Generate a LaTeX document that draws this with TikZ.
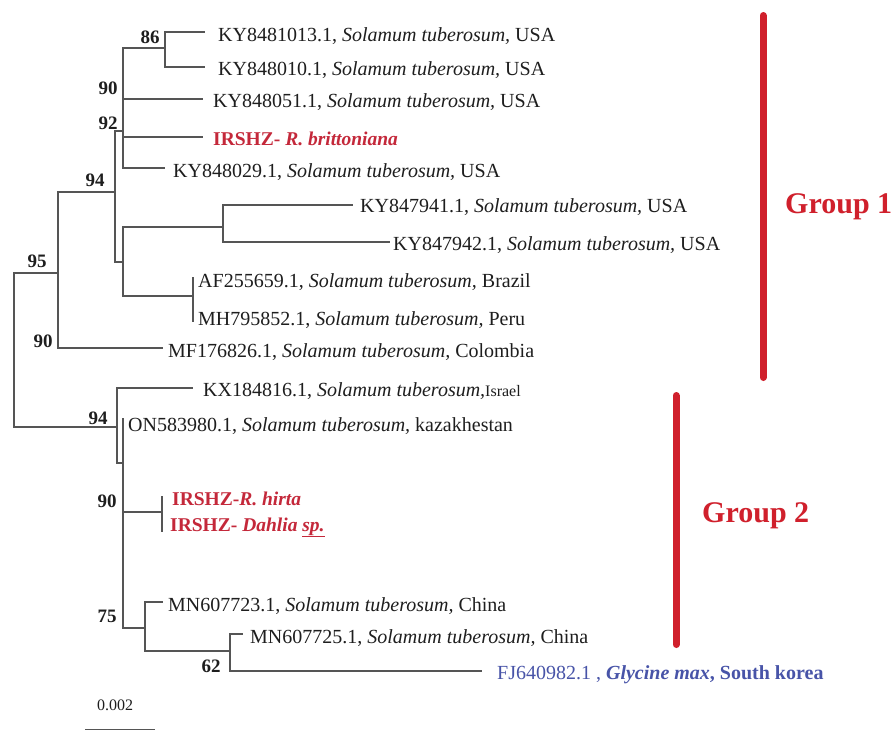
\documentclass[tikz,border=0pt]{standalone}
\usepackage{fontspec}
\setmainfont{Liberation Serif}
\definecolor{grpred}{RGB}{208,32,44}
\definecolor{txtred}{RGB}{196,40,58}
\definecolor{txtblue}{RGB}{72,84,168}
\definecolor{brgray}{RGB}{85,85,85}
\definecolor{txtdark}{RGB}{30,30,30}
\tikzset{
  brline/.style={draw=brgray, line width=1.3pt},
  leaf/.style={anchor=base west, inner sep=0pt, text=txtdark, font=\fontsize{20}{24}\selectfont},
  redlab/.style={anchor=base west, inner sep=0pt, text=txtred, font=\bfseries\fontsize{19.5}{23}\selectfont},
  bluelab/.style={anchor=base west, inner sep=0pt, text=txtblue, font=\fontsize{20}{24}\selectfont},
  boot/.style={inner sep=0pt, text=txtdark, font=\bfseries\fontsize{19}{22}\selectfont},
  grp/.style={anchor=base west, inner sep=0pt, text=grpred, font=\bfseries\fontsize{30}{34}\selectfont},
  grpbar/.style={draw=grpred, line width=7pt, line cap=round},
}
\newcommand{\sol}{\textit{Solamum tuberosum,}}
\begin{document}
\begin{tikzpicture}[x=1pt,y=-1pt]
\useasboundingbox[fill=white] (0,0) rectangle (896,731);
% internal nodes
\coordinate (root) at (14,350);
\coordinate (n95) at (58,273);
\coordinate (n94) at (115,192);
\coordinate (nA) at (123,131);
\coordinate (n86) at (165,48);
\coordinate (nC) at (123,262);
\coordinate (nD) at (223,227);
\coordinate (nE) at (193,296);
\coordinate (n117) at (117,427);
\coordinate (nB) at (123,463);
\coordinate (nF) at (162,512);
\coordinate (nG) at (145,628);
\coordinate (nH) at (230,651);
% tips
\coordinate (t1) at (205,32);
\coordinate (t2) at (205,67);
\coordinate (t3) at (203,99);
\coordinate (t4) at (203,137);
\coordinate (t5) at (165,168);
\coordinate (t6) at (353,205);
\coordinate (t7) at (390,242);
\coordinate (t8) at (193,277);
\coordinate (t9) at (193,322);
\coordinate (t10) at (163,348);
\coordinate (t11) at (193,388);
\coordinate (t12) at (123,418);
\coordinate (t13) at (162,496);
\coordinate (t14) at (162,532);
\coordinate (t15) at (163,602);
\coordinate (t16) at (243,634);
\coordinate (t17) at (482,671);
% branches
\path[brline] (root) |- (n95) (root) |- (n117)
  (n95) |- (n94) (n95) |- (t10)
  (n94) |- (nA) (n94) |- (nC)
  (nA) |- (n86) (nA) |- (t3) (nA) |- (t4) (nA) |- (t5)
  (n86) |- (t1) (n86) |- (t2)
  (nC) |- (nD) (nC) |- (nE)
  (nD) |- (t6) (nD) |- (t7)
  (nE) |- (t8) (nE) |- (t9)
  (n117) |- (t11) (n117) |- (nB)
  (nB) |- (t12) (nB) |- (nF) (nB) |- (nG)
  (nF) |- (t13) (nF) |- (t14)
  (nG) |- (t15) (nG) |- (nH)
  (nH) |- (t16) (nH) |- (t17);
% leaf labels
\node[leaf] (L1) at (218,41) {KY8481013.1, \sol{} USA};
\node[leaf] (L2) at (218,75) {KY848010.1, \sol{} USA};
\node[leaf] (L3) at (213,107) {KY848051.1, \sol{} USA};
\node[redlab] (L4) at (213,145) {IRSHZ- \textit{R. brittoniana}};
\node[leaf] (L5) at (173,177) {KY848029.1, \sol{} USA};
\node[leaf] (L6) at (360,212) {KY847941.1, \sol{} USA};
\node[leaf] (L7) at (393,250) {KY847942.1, \sol{} USA};
\node[leaf] (L8) at (198,287) {AF255659.1, \sol{} Brazil};
\node[leaf] (L9) at (198,325) {MH795852.1, \sol{} Peru};
\node[leaf] (L10) at (168,357) {MF176826.1, \sol{} Colombia};
\node[leaf] (L11) at (203,396) {KX184816.1, \sol{}{\fontsize{16}{18}\selectfont Israel}};
\node[leaf] (L12) at (128,431) {ON583980.1, \sol{} kazakhestan};
\node[redlab] (L13) at (172,505) {IRSHZ-\textit{R. hirta}};
\node[redlab] (L14) at (170,531) {IRSHZ- \textit{Dahlia} \underline{\textit{sp.}}};
\node[leaf] (L15) at (168,611) {MN607723.1, \sol{} China};
\node[leaf] (L16) at (250,643) {MN607725.1, \sol{} China};
\node[bluelab] (L17) at (497,679) {FJ640982.1 , \textbf{\textit{Glycine max}}\textbf{, South korea}};
% bootstrap values
\node[boot] (b86) at (150,37) {86};
\node[boot] (b90a) at (108,88) {90};
\node[boot] (b92) at (108,123) {92};
\node[boot] (b94a) at (95,180) {94};
\node[boot] (b95) at (37,261) {95};
\node[boot] (b90b) at (43,341) {90};
\node[boot] (b94b) at (98,418) {94};
\node[boot] (b90c) at (107,501) {90};
\node[boot] (b75) at (107,616) {75};
\node[boot] (b62) at (211,666) {62};
% scale
\node[inner sep=0pt, text=txtdark, font=\fontsize{16}{18}\selectfont] (sc) at (115,705) {0.002};
\coordinate (s1) at (85,729.5);
\coordinate (s2) at (155,729.5);
\draw[brgray, line width=1.3pt] (s1) -- (s2);
% groups
\coordinate (g1a) at (763,15.5);
\coordinate (g1b) at (763,377.5);
\coordinate (g2a) at (676,395.5);
\coordinate (g2b) at (676,644.5);
\draw[grpbar] (g1a) -- (g1b);
\draw[grpbar] (g2a) -- (g2b);
\node[grp] (G1) at (785,213) {Group 1};
\node[grp] (G2) at (702,522) {Group 2};
\end{tikzpicture}
\end{document}
